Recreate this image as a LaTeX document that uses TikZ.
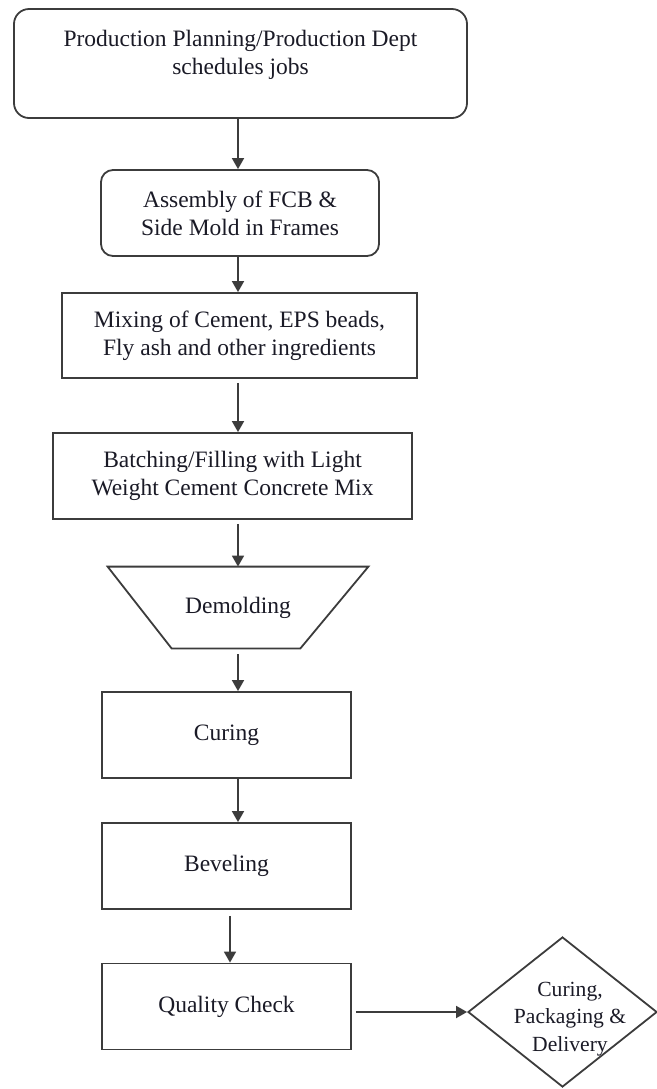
\documentclass[tikz,border=0pt]{standalone}
\usepackage{fontspec}
\setmainfont{Liberation Serif}
\usepackage{xcolor}
\usetikzlibrary{calc,arrows.meta,shapes.geometric}
\definecolor{edge}{HTML}{3C3C3C}
\definecolor{ink}{HTML}{1A1A26}
\newcommand{\mainsize}{\fontsize{11.75}{13.9}\selectfont}
\newcommand{\smallsize}{\fontsize{10.8}{13.6}\selectfont}
\tikzset{
  line/.style={draw=edge, line width=0.9pt},
  arr/.style={line, -{Triangle[length=5.5pt,width=6pt]}},
  rbox/.style={line, rounded corners=6pt, text=ink, align=center, font=\mainsize},
  sbox/.style={line, text=ink, align=center, font=\mainsize},
  lbl/.style={text=ink, align=center, font=\mainsize}
}

\begin{document}
\begin{tikzpicture}[x=0.5pt, y=-0.5pt]
  \useasboundingbox (0,0) rectangle (657,1089);
  \coordinate (axis) at (238,0);
  \coordinate (axisb) at (230,0);

  \node[rbox, rounded corners=7.5pt, minimum width=226.5pt, minimum height=54.5pt] (plan) at (240.5,63.5) {};
  \node[lbl] (plantxt) at (240.5,55) {Production Planning/Production Dept\\schedules jobs};
  \node[rbox, minimum width=139pt, minimum height=43pt] (assy) at (240,213) {Assembly of FCB \&\\Side Mold in Frames};
  \node[sbox, minimum width=177.5pt, minimum height=42.5pt] (mix) at (239.5,335.5) {Mixing of Cement, EPS beads,\\Fly ash and other ingredients};
  \node[sbox, minimum width=179.5pt, minimum height=43pt] (batch) at (232.5,476) {Batching/Filling with Light\\Weight Cement Concrete Mix};

  \node[lbl, minimum width=130pt, minimum height=40.5pt] (demold) at (238,607.5) {Demolding};
  \draw[line] (demold.north west) -- (demold.north east) -- ($(demold.south east)+(-68,0)$) -- ($(demold.south west)+(64,0)$) -- cycle;

  \node[sbox, minimum width=124.5pt, minimum height=43pt] (cure) at (226.5,735) {Curing};
  \node[sbox, minimum width=124.5pt, minimum height=43pt] (bevel) at (226.5,866) {Beveling};
  \node[sbox, minimum width=124.5pt, minimum height=43pt] (qc) at (226.5,1006.5) {Quality Check};

  \node[diamond, line, minimum width=94.5pt, minimum height=75pt, inner sep=0pt] (cpd) at (562.5,1012) {};
  \node[lbl, font=\smallsize] (cpdtxt) at (570,1019) {Curing,\\Packaging \&\\Delivery};

  \draw[arr] (plan.south -| axis) -- (assy.north -| axis);
  \draw[arr] (assy.south -| axis) -- (mix.north -| axis);
  \draw[arr, shorten <=2pt] (mix.south -| axis) -- (batch.north -| axis);
  \draw[arr, shorten <=2pt] (batch.south -| axis) -- (demold.north -| axis);
  \draw[arr, shorten <=3pt] (demold.south -| axis) -- (cure.north -| axis);
  \draw[arr] (cure.south -| axis) -- (bevel.north -| axis);
  \draw[arr, shorten <=3pt] (bevel.south -| axisb) -- (qc.north -| axisb);
  \draw[arr, shorten <=2pt] (qc.east |- cpd) -- (cpd.west);
\end{tikzpicture}
\end{document}
